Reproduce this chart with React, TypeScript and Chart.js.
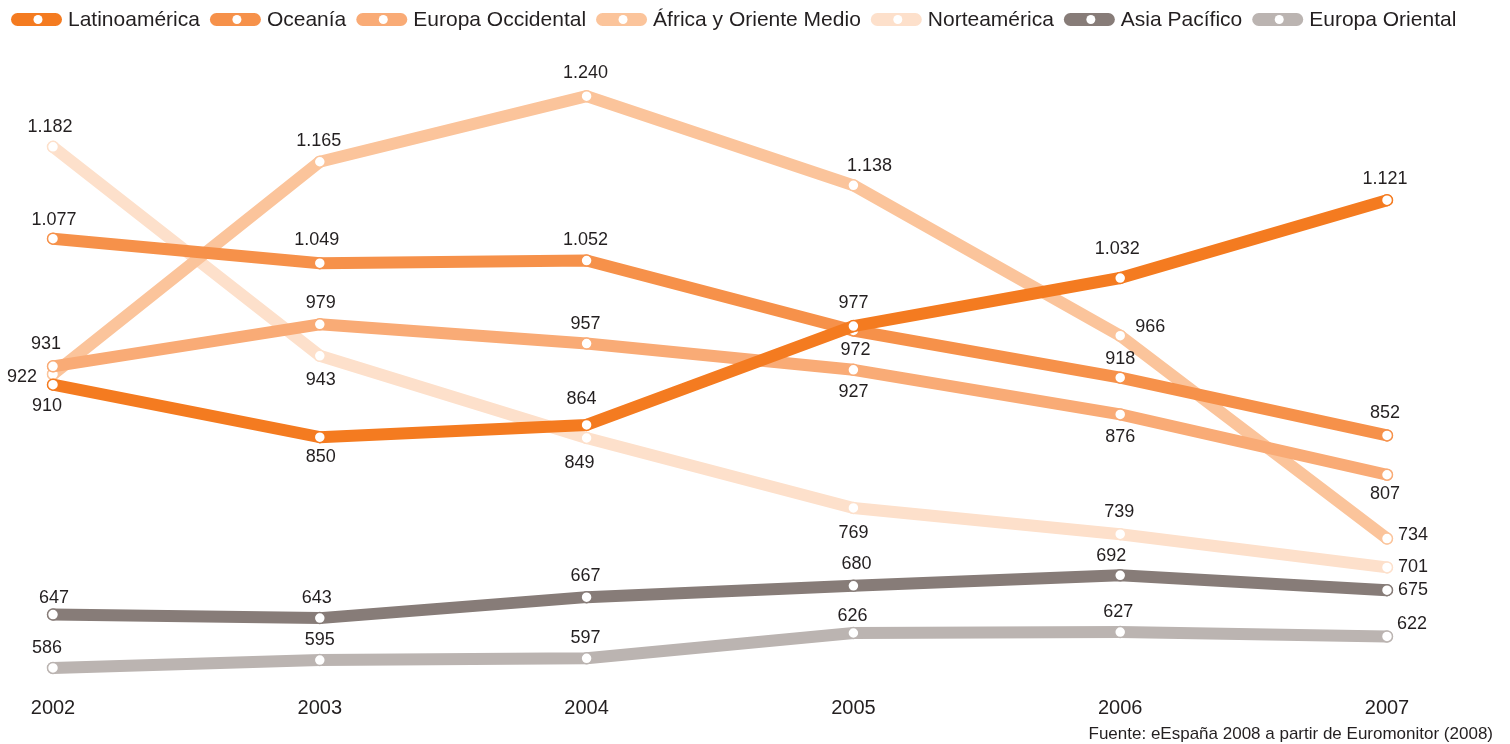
import React, { useEffect, useRef } from "react";
import { Chart, registerables } from "chart.js";

Chart.register(...registerables);

const years = ["2002", "2003", "2004", "2005", "2006", "2007"];
const seriesNames = [
  "Latinoamérica",
  "Oceanía",
  "Europa Occidental",
  "África y Oriente Medio",
  "Norteamérica",
  "Asia Pacífico",
  "Europa Oriental",
];
const latinoamerica = [910, 850, 864, 977, 1032, 1121];
const oceania = [1077, 1049, 1052, 972, 918, 852];
const europaOccidental = [931, 979, 957, 927, 876, 807];
const africaOrienteMedio = [922, 1165, 1240, 1138, 966, 734];
const norteamerica = [1182, 943, 849, 769, 739, 701];
const asiaPacifico = [647, 643, 667, 680, 692, 675];
const europaOriental = [586, 595, 597, 626, 627, 622];
const sourceText = "Fuente: eEspaña 2008 a partir de Euromonitor (2008)";

const seriesValues = [
  latinoamerica,
  oceania,
  europaOccidental,
  africaOrienteMedio,
  norteamerica,
  asiaPacifico,
  europaOriental,
];
const colors = [
  "#F47B20",
  "#F6914A",
  "#F9AB76",
  "#FBC49B",
  "#FDE0CB",
  "#877C78",
  "#BBB4B1",
];
// label offsets (dx, dy) relative to each point
const labelOffsets = [
  [[-6, 21], [1, 20], [-5, -26], [0, -23], [-3, -29], [-2, -21]],
  [[1, -19], [-3, -23], [-1, -21], [2, 20], [0, -19], [-2, -22]],
  [[-7, -22], [1, -21], [-1, -20], [0, 22], [0, 23], [-2, 19]],
  [[-31, 3], [-1, -21], [-1, -23], [16, -19], [30, -9], [26, -4]],
  [[-3, -20], [1, 24], [-7, 25], [0, 25], [-1, -22], [26, 0]],
  [[1, -17], [-3, -20], [-1, -21], [3, -22], [-9, -19], [26, 0]],
  [[-6, -20], [0, -20], [-1, -20], [-1, -17], [-2, -20], [25, -12]],
];

const FONT = "'Liberation Sans', Arial, Helvetica, sans-serif";

function fmt(v: number): string {
  const s = String(v);
  if (v >= 1000) return s.slice(0, s.length - 3) + "." + s.slice(-3);
  return s;
}

const overlayPlugin = {
  id: "overlay",
  afterDatasetsDraw(chart: any) {
    const ctx = chart.ctx;
    ctx.save();
    // data labels
    ctx.font = `18px ${FONT}`;
    ctx.fillStyle = "#231f20";
    ctx.textAlign = "center";
    ctx.textBaseline = "middle";
    chart.data.datasets.forEach((ds: any, i: number) => {
      const meta = chart.getDatasetMeta(i);
      meta.data.forEach((pt: any, j: number) => {
        const [dx, dy] = labelOffsets[i][j];
        ctx.fillText(fmt(ds.data[j]), pt.x + dx, pt.y + dy);
      });
    });
    // legend
    ctx.font = `21px ${FONT}`;
    ctx.textAlign = "left";
    let x = 11;
    const cy = 19.5;
    seriesNames.forEach((name, i) => {
      const w = 51;
      const h = 13;
      ctx.fillStyle = colors[i];
      ctx.beginPath();
      ctx.moveTo(x + h / 2, cy - h / 2);
      ctx.lineTo(x + w - h / 2, cy - h / 2);
      ctx.arc(x + w - h / 2, cy, h / 2, -Math.PI / 2, Math.PI / 2);
      ctx.lineTo(x + h / 2, cy + h / 2);
      ctx.arc(x + h / 2, cy, h / 2, Math.PI / 2, (3 * Math.PI) / 2);
      ctx.closePath();
      ctx.fill();
      ctx.fillStyle = "#ffffff";
      ctx.beginPath();
      ctx.arc(x + 27, cy, 4.5, 0, Math.PI * 2);
      ctx.fill();
      ctx.fillStyle = "#231f20";
      ctx.fillText(name, x + 57, cy + 1);
      x += 57 + ctx.measureText(name).width + 10;
    });
    // source
    ctx.font = `17px ${FONT}`;
    ctx.textAlign = "right";
    ctx.fillStyle = "#231f20";
    ctx.fillText(sourceText, 1493, 734);
    ctx.restore();
  },
};

export default function App() {
  const ref = useRef<HTMLCanvasElement | null>(null);
  useEffect(() => {
    if (!ref.current) return;
    const chart = new Chart(ref.current, {
      type: "line",
      data: {
        labels: years,
        datasets: seriesNames.map((name, i) => ({
          label: name,
          data: seriesValues[i],
          borderColor: colors[i],
          backgroundColor: "#ffffff",
          borderWidth: 12,
          borderCapStyle: "round",
          borderJoinStyle: "round",
          pointRadius: 5.5,
          pointBorderWidth: 1.5,
          pointBorderColor: colors[i],
          pointBackgroundColor: "#ffffff",
          tension: 0,
          fill: false,
        })),
      },
      options: {
        animation: false,
        responsive: false,
        maintainAspectRatio: false,
        layout: { padding: { left: 53, right: 123, top: 50, bottom: 20 } },
        plugins: {
          legend: { display: false },
          tooltip: { enabled: false },
          title: { display: false },
        },
        scales: {
          x: {
            offset: false,
            grid: { display: false, drawTicks: false },
            border: { display: false },
            ticks: {
              color: "#231f20",
              font: { size: 20, family: FONT },
              padding: 4,
              maxRotation: 0,
            },
          },
          y: {
            display: false,
            min: 558.5,
            max: 1292.8,
          },
        },
      },
      plugins: [overlayPlugin],
    } as any);
    return () => chart.destroy();
  }, []);
  return (
    <div style={{ position: "fixed", left: 0, top: 0, width: 1510, height: 744, background: "#fff" }}>
      <canvas ref={ref} width={1510} height={744} style={{ width: 1510, height: 744 }} />
    </div>
  );
}
